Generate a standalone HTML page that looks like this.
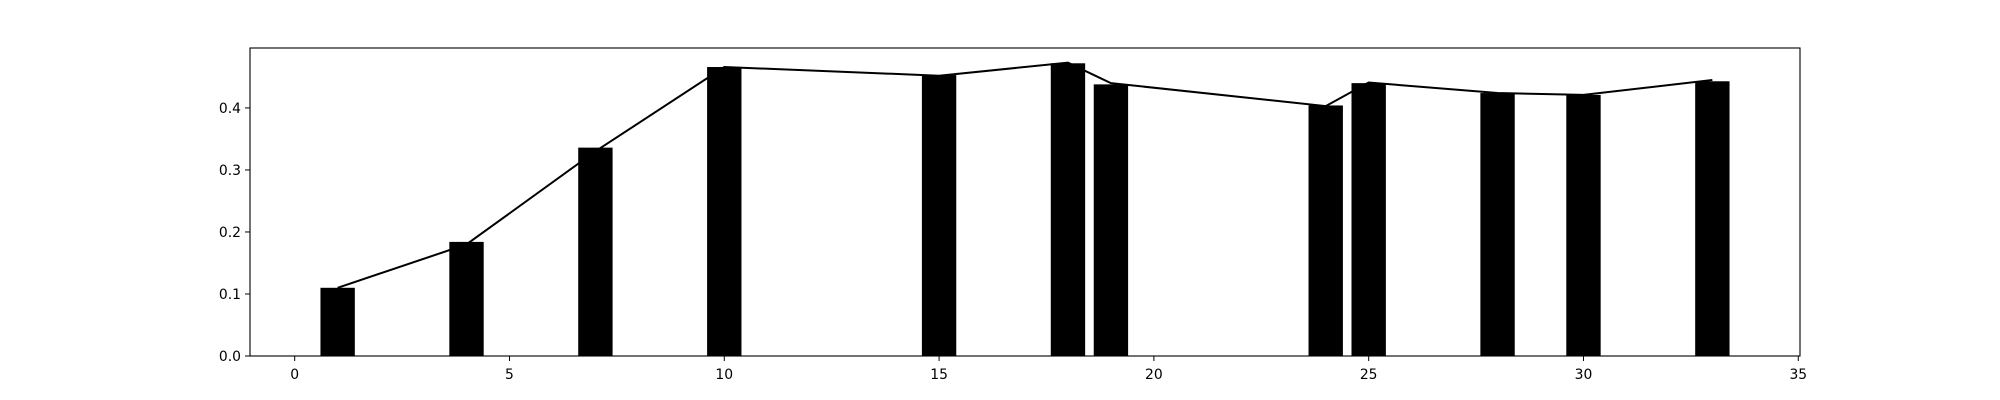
<!DOCTYPE html>
<html><head><meta charset="utf-8"><style>
html,body{margin:0;padding:0;background:#fff;}
svg{display:block;font-family:"DejaVu Sans","Liberation Sans",sans-serif;}
</style></head><body>
<svg id="chart" width="2000" height="400" xmlns="http://www.w3.org/2000/svg">
<rect width="2000" height="400" fill="#fff"/>
<g id="bars"></g>
<g id="lines"></g>
<g id="axes"></g>
</svg>
<script>
const categories = [1, 4, 7, 10, 15, 18, 19, 24, 25, 28, 30, 33];
const barValues = [0.110, 0.184, 0.336, 0.466, 0.453, 0.472, 0.438, 0.404, 0.440, 0.424, 0.421, 0.443];
const lineValues = [0.110, 0.180, 0.330, 0.466, 0.452, 0.473, 0.440, 0.403, 0.441, 0.424, 0.421, 0.445];
const xTicks = [0, 5, 10, 15, 20, 25, 30, 35];
const yTicks = [0.0, 0.1, 0.2, 0.3, 0.4];

const NS = "http://www.w3.org/2000/svg";
const L = 250, R = 1800, T = 48, B = 356;
const barW = 0.8;
const minX = Math.min(...categories) - barW/2, maxX = Math.max(...categories) + barW/2;
const padX = (maxX - minX) * 0.05;
const x0 = minX - padX, x1 = maxX + padX;
const yMax = Math.max(...barValues, ...lineValues) * 1.05;
const sx = v => L + (v - x0) / (x1 - x0) * (R - L);
const sy = v => B - v / yMax * (B - T);

function mk(tag, attrs, parent) {
  const e = document.createElementNS(NS, tag);
  for (const k in attrs) e.setAttribute(k, attrs[k]);
  parent.appendChild(e);
  return e;
}
const gBars = document.getElementById('bars');
categories.forEach((c, i) => {
  const r = mk('rect', {x: sx(c - barW/2), y: sy(barValues[i]), width: sx(c + barW/2) - sx(c - barW/2), height: B - sy(barValues[i]), fill: '#000'}, gBars);
  
  
});
const gLine = document.getElementById('lines');
const pl = mk('polyline', {points: categories.map((c, i) => sx(c) + ',' + sy(lineValues[i])).join(' '), fill: 'none', stroke: '#000', 'stroke-width': 2}, gLine);



const gAx = document.getElementById('axes');
const frame = mk('rect', {x: L, y: T, width: R - L, height: B - T, fill: 'none', stroke: '#000', 'stroke-width': 1.1}, gAx);


xTicks.forEach(t => {
  const x = sx(t);
  const tk = mk('line', {x1: x, x2: x, y1: B, y2: B + 5, stroke: '#000', 'stroke-width': 1}, gAx);
  
  
  const tx = mk('text', {x: x, y: B + 23, 'text-anchor': 'middle', 'font-size': 13.9, fill: '#000'}, gAx);
  tx.textContent = String(t);
  
  
});
yTicks.forEach(t => {
  const y = sy(t);
  const tk = mk('line', {x1: L - 5, x2: L, y1: y, y2: y, stroke: '#000', 'stroke-width': 1}, gAx);
  
  
  const tx = mk('text', {x: L - 9, y: y + 5, 'text-anchor': 'end', 'font-size': 13.9, fill: '#000'}, gAx);
  tx.textContent = t.toFixed(1);
  
  
});
</script>
</body></html>
